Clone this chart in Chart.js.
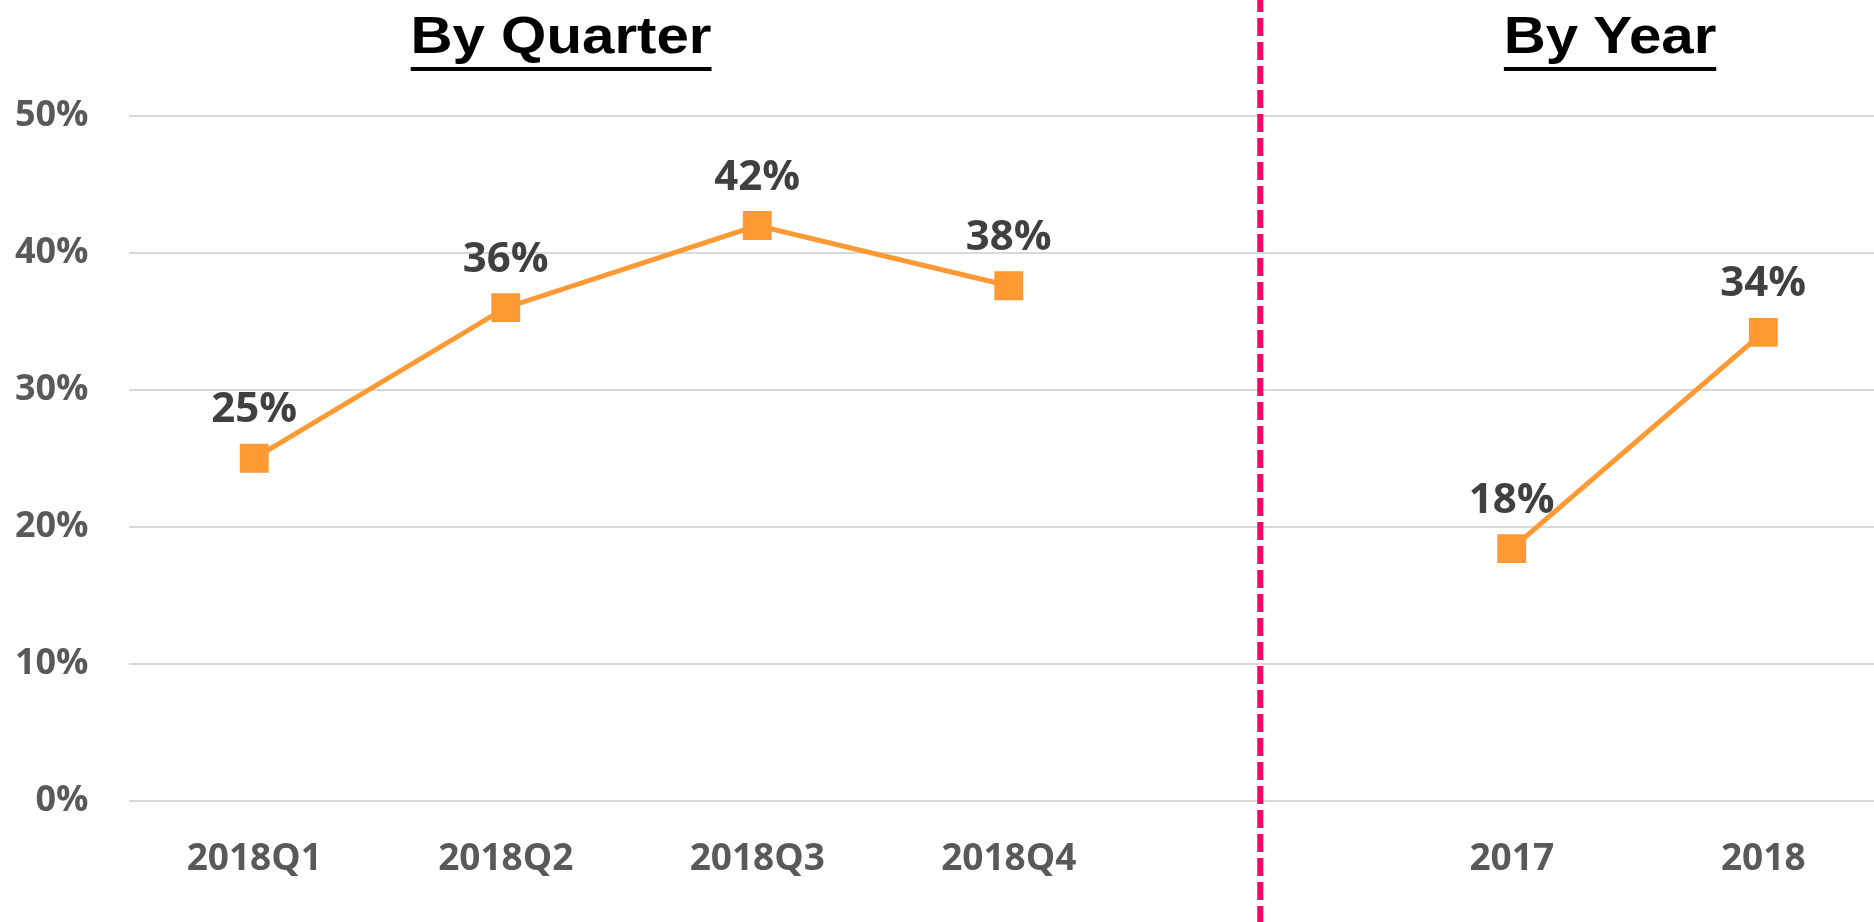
<!DOCTYPE html>
<html>
<head>
<meta charset="utf-8">
<script src="https://cdn.jsdelivr.net/npm/chart.js@4/dist/chart.umd.min.js"></script>
<style>
    html, body { margin: 0; padding: 0; background: #fff; overflow: hidden; }
    #wrap { position: relative; width: 1889px; height: 922px; }
    .panel-title {
        position: absolute;
        top: 9px;
        font-family: 'Liberation Sans', Arial, sans-serif;
        font-weight: bold;
        font-size: 52px;
        line-height: 52px;
        color: #000;
        white-space: nowrap;
        text-decoration: underline;
        text-decoration-thickness: 4px;
        text-underline-offset: 14px;
        transform: translateX(-50%) scaleX(1.12);
    }
</style>
</head>
<body>
<div id="wrap">
    <canvas id="rate-chart"></canvas>
    <div class="panel-title" style="left:561px">By Quarter</div>
    <div class="panel-title" style="left:1610px">By Year</div>
</div>
<script>
// ---- data ----
const categories = ['2018Q1', '2018Q2', '2018Q3', '2018Q4', '', '2017', '2018'];
const quarterValues = [25, 36, 42, 37.6];
const yearValues = [18.4, 34.2];
const yTicks = [0, 10, 20, 30, 40, 50];
const dividerIndex = 4;

// quarter and year share one axis, with an empty slot between them
const seriesValues = [...quarterValues, null, ...yearValues];

// dashed divider between the two panels
const dividerPlugin = {
    id: 'divider',
    afterDatasetsDraw(chart) {
        const ctx = chart.ctx;
        const x = chart.scales.x.getPixelForValue(dividerIndex);
        ctx.save();
        ctx.strokeStyle = '#FF0066';
        ctx.lineWidth = 6;
        ctx.setLineDash([18, 6]);
        ctx.lineDashOffset = 6;
        ctx.beginPath();
        ctx.moveTo(x, 0);
        ctx.lineTo(x, chart.height);
        ctx.stroke();
        ctx.restore();
    }
};

// value labels above each marker
const valueLabels = {
    id: 'valueLabels',
    afterDatasetsDraw(chart) {
        const ctx = chart.ctx;
        const meta = chart.getDatasetMeta(0);
        ctx.save();
        ctx.font = 'bold 42px "Open Sans"';
        ctx.fillStyle = '#404040';
        ctx.textAlign = 'center';
        ctx.textBaseline = 'middle';
        meta.data.forEach((pt, i) => {
            const v = seriesValues[i];
            if (v === null) return;
            ctx.fillText(Math.round(v) + '%', pt.x, pt.y - 48);
        });
        ctx.restore();
    }
};

const ctx = document.getElementById('rate-chart').getContext('2d');
new Chart(ctx, {
    type: 'line',
    data: {
        labels: categories,
        datasets: [{
            data: seriesValues,
            borderColor: '#FF9933',
            borderWidth: 5,
            tension: 0,
            spanGaps: false,
            pointStyle: 'rect',
            pointRadius: 19,
            pointHoverRadius: 19,
            pointBackgroundColor: '#FF9933',
            pointBorderColor: '#FF9933',
            pointBorderWidth: 2
        }]
    },
    options: {
        responsive: true,
        maintainAspectRatio: false,
        animation: false,
        layout: {
            autoPadding: false,
            padding: { top: 116, bottom: 3, left: 0, right: 0 }
        },
        plugins: {
            legend: { display: false },
            tooltip: { enabled: false }
        },
        scales: {
            x: {
                offset: true,
                grid: { display: false, drawTicks: false },
                border: { display: false },
                ticks: {
                    padding: 37,
                    color: '#595959',
                    font: { family: 'Open Sans', size: 37, weight: 'bold' }
                }
            },
            y: {
                min: 0,
                max: 50,
                afterFit(scale) { scale.width = 128.5; },
                afterBuildTicks(scale) { scale.ticks = yTicks.map(v => ({ value: v })); },
                grid: { color: '#D9D9D9', lineWidth: 2, drawTicks: false },
                border: { display: false },
                ticks: {
                    padding: 40,
                    color: '#595959',
                    font: { family: 'Open Sans', size: 36, weight: 'bold' },
                    callback: v => v + '%'
                }
            }
        }
    },
    plugins: [dividerPlugin, valueLabels]
});
</script>
</body>
</html>
